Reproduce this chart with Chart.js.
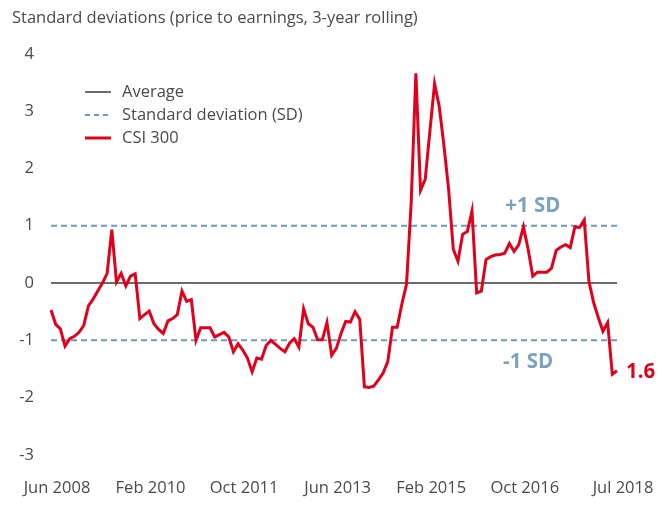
<!DOCTYPE html>
<html>
<head>
<meta charset="utf-8">
<script src="https://cdn.jsdelivr.net/npm/chart.js@4.4.1/dist/chart.umd.min.js"></script>
<style>
    html, body { margin: 0; padding: 0; background: #fff; }
    #wrap { width: 670px; height: 507px; }
</style>
</head>
<body>
<div id="wrap"><canvas id="chart" width="670" height="507"></canvas></div>
<script>
// Monthly categories, Jun 2008 .. Jul 2018
const monthNames = ["Jan", "Feb", "Mar", "Apr", "May", "Jun", "Jul", "Aug", "Sep", "Oct", "Nov", "Dec"];
const months = [];
for (let y = 2008, m = 5; y < 2018 || (y === 2018 && m <= 6); m++) {
    if (m > 11) { m = 0; y++; }
    months.push(monthNames[m] + " " + y);
}

// Tick labels shown on the x axis
const tickLabels = ["Jun 2008", "Feb 2010", "Oct 2011", "Jun 2013", "Feb 2015", "Oct 2016", "Jul 2018"];

// CSI 300 P/E, standard deviations from the 3-year rolling mean
const csi300 = [
    -0.47, -0.72, -0.80, -1.10, -0.97, -0.93, -0.86, -0.74, -0.40, -0.28,
    -0.14, 0.00, 0.17, 0.93, 0.02, 0.17, -0.05, 0.12, 0.16, -0.62,
    -0.55, -0.49, -0.71, -0.81, -0.88, -0.66, -0.62, -0.55, -0.14, -0.32,
    -0.29, -1.00, -0.78, -0.78, -0.78, -0.94, -0.90, -0.86, -0.94, -1.20,
    -1.06, -1.17, -1.31, -1.55, -1.31, -1.33, -1.09, -1.00, -1.07, -1.14,
    -1.20, -1.05, -0.97, -1.12, -0.45, -0.71, -0.77, -0.99, -0.99, -0.69,
    -1.26, -1.14, -0.88, -0.67, -0.68, -0.50, -0.63, -1.81, -1.82, -1.80,
    -1.69, -1.57, -1.37, -0.77, -0.77, -0.37, -0.02, 1.40, 3.66, 1.62,
    1.81, 2.65, 3.48, 3.08, 2.40, 1.64, 0.59, 0.38, 0.85, 0.90,
    1.26, -0.17, -0.14, 0.41, 0.46, 0.49, 0.50, 0.52, 0.69, 0.55,
    0.67, 0.98, 0.59, 0.12, 0.19, 0.19, 0.19, 0.26, 0.57, 0.63,
    0.67, 0.62, 0.98, 0.97, 1.10, 0.03, -0.34, -0.60, -0.84, -0.69,
    -1.59, -1.53
];

const averageLevel = 0;
const sdLevels = [1, -1];
const sdLabels = ["+1 SD", "-1 SD"];
const lastLabel = "1.6";

// Colours
const red = "#e2001a";
const avgColor = "#686d72";
const sdColor = "#6a9dbe";
const sdTextColor = "#7aa3bd";
const textColor = "#4a4a4a";
const fontFamily = "'Open Sans', 'Noto Sans', sans-serif";
const fontSize = 16.5;

// Legend drawn inside the plot area, top left
const insideLegend = {
    id: "insideLegend",
    afterDraw(chart) {
        const ctx = chart.ctx;
        const items = [
            { text: "Average", color: avgColor, dash: [], width: 2 },
            { text: "Standard deviation (SD)", color: sdColor, dash: [5, 4], width: 2 },
            { text: "CSI 300", color: red, dash: [], width: 3 },
        ];
        ctx.save();
        ctx.font = fontSize + "px " + fontFamily;
        ctx.textBaseline = "middle";
        items.forEach((item, i) => {
            const y = 92 + i * 23;
            ctx.beginPath();
            ctx.setLineDash(item.dash);
            ctx.strokeStyle = item.color;
            ctx.lineWidth = item.width;
            ctx.moveTo(85, y);
            ctx.lineTo(111, y);
            ctx.stroke();
            ctx.setLineDash([]);
            ctx.fillStyle = textColor;
            ctx.fillText(item.text, 122, y);
        });
        ctx.restore();
    },
};

// "+1 SD", "-1 SD" and last-value labels
const annotations = {
    id: "annotations",
    afterDatasetsDraw(chart) {
        const ctx = chart.ctx;
        const xs = chart.scales.x;
        const ys = chart.scales.y;
        ctx.save();
        ctx.font = "bold 20.5px " + fontFamily;
        ctx.textAlign = "center";
        ctx.textBaseline = "middle";
        ctx.fillStyle = sdTextColor;
        ctx.fillText(sdLabels[0], xs.getPixelForValue(103), ys.getPixelForValue(sdLevels[0]) - 20);
        ctx.fillText(sdLabels[1], xs.getPixelForValue(102), ys.getPixelForValue(sdLevels[1]) + 22);
        const last = csi300.length - 1;
        ctx.textAlign = "left";
        ctx.fillStyle = red;
        ctx.fillText(lastLabel, xs.getPixelForValue(last) + 9, ys.getPixelForValue(csi300[last]) + 1);
        ctx.restore();
    },
};

Chart.defaults.font.family = fontFamily;
Chart.defaults.color = textColor;

new Chart(document.getElementById("chart"), {
    type: "line",
    data: {
        labels: months,
        datasets: [
            {
                label: "CSI 300",
                data: csi300,
                borderColor: red,
                borderWidth: 3,
                pointRadius: 0,
                tension: 0,
                order: 0,
            },
            {
                label: "Average",
                data: months.map(() => averageLevel),
                borderColor: avgColor,
                borderWidth: 2,
                pointRadius: 0,
                order: 1,
            },
            {
                label: "+1 SD",
                data: months.map(() => sdLevels[0]),
                borderColor: sdColor,
                borderWidth: 2,
                borderDash: [6, 4],
                pointRadius: 0,
                order: 2,
            },
            {
                label: "-1 SD",
                data: months.map(() => sdLevels[1]),
                borderColor: sdColor,
                borderWidth: 2,
                borderDash: [6, 4],
                pointRadius: 0,
                order: 2,
            },
        ],
    },
    options: {
        responsive: false,
        animation: false,
        layout: {
            padding: { left: 12, right: 53, top: 0, bottom: 0 },
        },
        scales: {
            x: {
                type: "category",
                offset: false,
                grid: { display: false, drawTicks: false },
                border: { display: false },
                afterBuildTicks: (scale) => {
                    scale.ticks = scale.ticks.filter((t) => tickLabels.includes(months[t.value]));
                },
                afterFit: (scale) => {
                    scale.height = 52;
                    scale.paddingLeft = 0;
                    scale.paddingRight = 0;
                },
                ticks: {
                    autoSkip: false,
                    maxRotation: 0,
                    padding: 23,
                    labelOffset: 6,
                    color: textColor,
                    font: { size: fontSize },
                    callback: function (value) {
                        return this.getLabelForValue(value);
                    },
                },
            },
            y: {
                min: -3,
                max: 4,
                grid: { display: false, drawTicks: false },
                border: { display: false },
                afterFit: (scale) => {
                    scale.width = 39;
                },
                ticks: {
                    stepSize: 1,
                    padding: 17,
                    color: textColor,
                    font: { size: fontSize },
                },
            },
        },
        plugins: {
            legend: { display: false },
            tooltip: { enabled: false },
            title: {
                display: true,
                text: "Standard deviations (price to earnings, 3-year rolling)",
                align: "start",
                color: textColor,
                font: { size: fontSize, weight: "normal" },
                padding: { top: 8, bottom: 26 },
            },
        },
    },
    plugins: [insideLegend, annotations],
});
</script>
</body>
</html>
